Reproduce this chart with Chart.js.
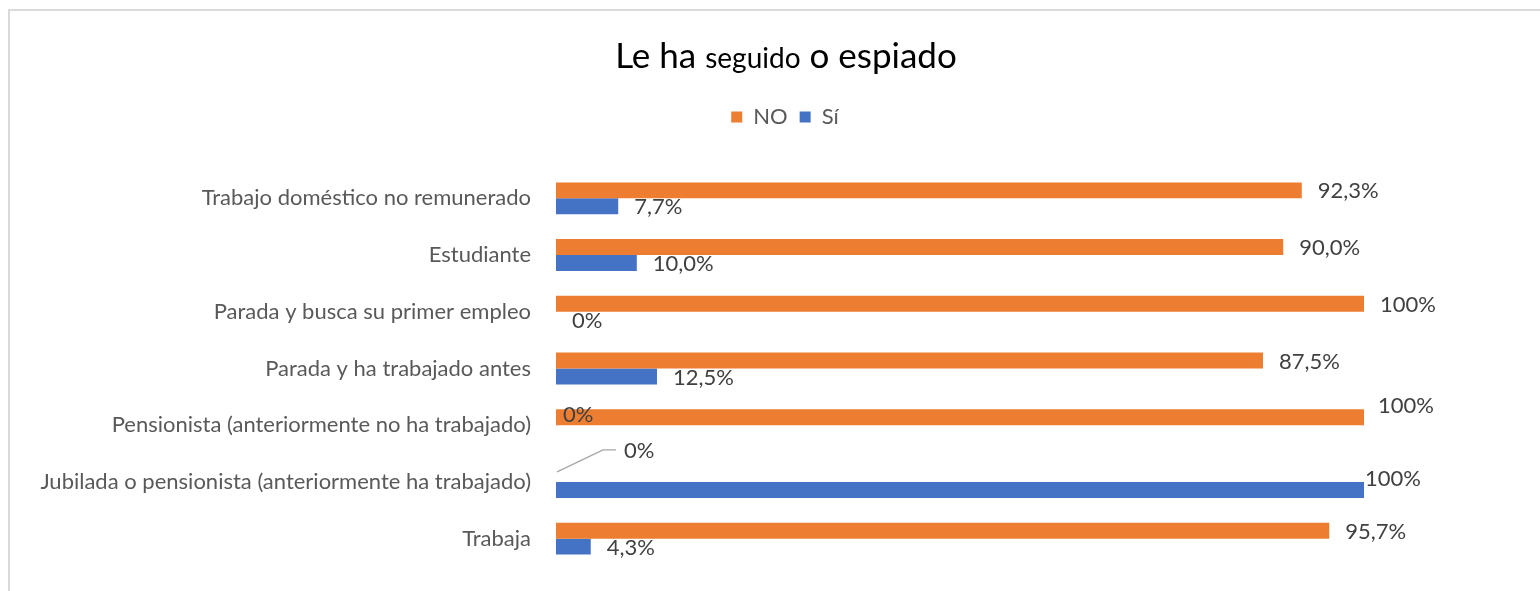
<!DOCTYPE html>
<html>
<head>
<meta charset="utf-8">
<script src="https://cdn.jsdelivr.net/npm/chart.js@4/dist/chart.umd.min.js"></script>
<style>
  html,body{margin:0;padding:0;background:#fff;width:1540px;height:591px;overflow:hidden;}
  #frame{position:absolute;left:8px;top:9px;width:1560px;height:620px;border:2px solid #d9d9d9;box-sizing:border-box;}
  #title{position:absolute;left:0;width:1572px;top:33px;text-align:center;font-family:Lato,sans-serif;font-size:35px;color:#000;line-height:42px;}
  #title .small{font-size:28px;}
  #wrap{position:absolute;left:0;top:0;width:1540px;height:591px;}
</style>
</head>
<body>
<div id="frame"></div>
<div id="wrap"><canvas id="c" width="1540" height="591"></canvas></div>
<div id="title">Le ha <span class="small">seguido</span> o espiado</div>
<script>
const categories = [
  "Trabajo doméstico no remunerado",
  "Estudiante",
  "Parada y busca su primer empleo",
  "Parada y ha trabajado antes",
  "Pensionista (anteriormente no ha trabajado)",
  "Jubilada o pensionista (anteriormente ha trabajado)",
  "Trabaja"
];
const seriesNames = ["NO", "Sí"];
const noValues = [92.3, 90.0, 100, 87.5, 100, 0, 95.7];
const siValues = [7.7, 10.0, 0, 12.5, 0, 100, 4.3];

function fmt(v){
  if (v === 0 || v === 100) return v + '%';
  return v.toFixed(1).replace('.', ',') + '%';
}

// manual label adjustments (as in the original chart), keyed "dataset:index"
const labelAdjust = {
  "0:4": {dx: -2, dy: -12},
  "1:4": {dx: -9, dy: -19},
  "0:5": {dx: 52, dy: -24, leader: true},
  "1:5": {dx: -15, dy: -12}
};

const dataLabels = {
  id: 'dataLabels',
  afterDatasetsDraw(chart){
    const ctx = chart.ctx;
    ctx.save();
    ctx.font = '22px Lato, sans-serif';
    ctx.fillStyle = '#404040';
    ctx.textAlign = 'left';
    ctx.textBaseline = 'middle';
    chart.data.datasets.forEach((ds, di) => {
      const meta = chart.getDatasetMeta(di);
      meta.data.forEach((el, i) => {
        const adj = labelAdjust[di + ':' + i] || {};
        const x = el.x + 16 + (adj.dx || 0);
        const y = el.y + 1 + (adj.dy || 0);
        if (adj.leader) {
          ctx.save();
          ctx.strokeStyle = '#a6a6a6';
          ctx.lineWidth = 1.3;
          ctx.beginPath();
          ctx.moveTo(el.x + 1, el.y - 2);
          ctx.lineTo(x - 21, y - 1);
          ctx.lineTo(x - 8, y - 1);
          ctx.stroke();
          ctx.restore();
        }
        ctx.fillText(fmt(ds.data[i]), x, y);
      });
    });
    ctx.restore();
  }
};

// extra gap under the legend and horizontal centring like the original
const legendTweak = {
  id: 'legendTweak',
  beforeInit(chart){
    const lg = chart.legend;
    const fit = lg.fit;
    lg.fit = function(){ fit.call(this); this.height += 32; };
  },
  afterLayout(chart){
    const lg = chart.legend;
    lg.left += 103; lg.right += 103;
  }
};

new Chart(document.getElementById('c'), {
  type: 'bar',
  data: {
    labels: categories,
    datasets: [
      {label: seriesNames[0], data: noValues, backgroundColor: '#ED7D31', borderWidth: 0},
      {label: seriesNames[1], data: siValues, backgroundColor: '#4472C4', borderWidth: 0}
    ]
  },
  options: {
    indexAxis: 'y',
    responsive: false,
    animation: false,
    layout: {padding: {top: 94, bottom: 24, left: 0, right: 176}},
    datasets: {bar: {categoryPercentage: 0.563, barPercentage: 1}},
    scales: {
      x: {display: false, min: 0, max: 100},
      y: {
        grid: {display: false, drawTicks: false},
        border: {display: false},
        ticks: {font: {family: 'Lato, sans-serif', size: 22}, color: '#595959', padding: 25},
        afterFit(scale){ scale.width = 556; scale.paddingTop = 0; scale.paddingBottom = 0; }
      }
    },
    plugins: {
      legend: {
        position: 'top',
        labels: {
          boxWidth: 11, boxHeight: 11, padding: 12,
          color: '#595959',
          font: {family: 'Lato, sans-serif', size: 22}
        }
      },
      tooltip: {enabled: false},
      title: {display: false}
    }
  },
  plugins: [dataLabels, legendTweak]
});
</script>
</body>
</html>
